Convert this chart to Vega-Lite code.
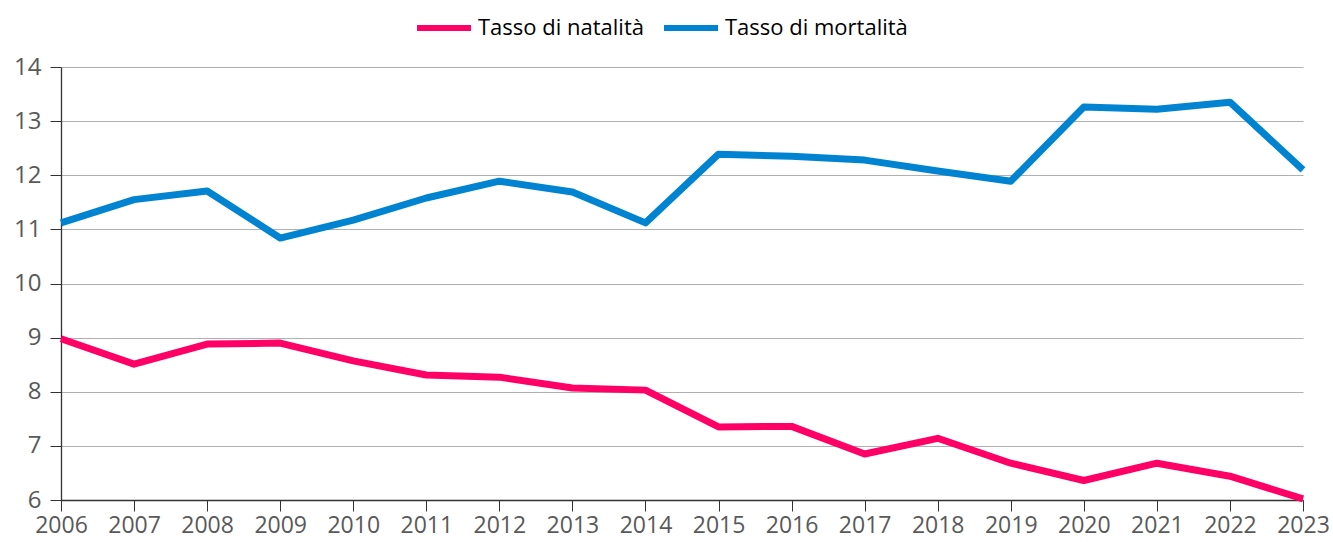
{
  "$schema": "https://vega.github.io/schema/vega-lite/v6.json",
  "width": 1242,
  "height": 433,
  "autosize": {"type": "none"},
  "padding": {"left": 61, "top": 67, "right": 30, "bottom": 42},
  "background": "white",
  "config": {
    "view": {"stroke": null},
    "font": "Open Sans"
  },
  "data": {
    "values": [
      {"anno": 2006, "serie": "Tasso di natalità", "valore": 8.98},
      {"anno": 2007, "serie": "Tasso di natalità", "valore": 8.51},
      {"anno": 2008, "serie": "Tasso di natalità", "valore": 8.88},
      {"anno": 2009, "serie": "Tasso di natalità", "valore": 8.9},
      {"anno": 2010, "serie": "Tasso di natalità", "valore": 8.57},
      {"anno": 2011, "serie": "Tasso di natalità", "valore": 8.31},
      {"anno": 2012, "serie": "Tasso di natalità", "valore": 8.27},
      {"anno": 2013, "serie": "Tasso di natalità", "valore": 8.07},
      {"anno": 2014, "serie": "Tasso di natalità", "valore": 8.03},
      {"anno": 2015, "serie": "Tasso di natalità", "valore": 7.35},
      {"anno": 2016, "serie": "Tasso di natalità", "valore": 7.36},
      {"anno": 2017, "serie": "Tasso di natalità", "valore": 6.85},
      {"anno": 2018, "serie": "Tasso di natalità", "valore": 7.14},
      {"anno": 2019, "serie": "Tasso di natalità", "valore": 6.68},
      {"anno": 2020, "serie": "Tasso di natalità", "valore": 6.36},
      {"anno": 2021, "serie": "Tasso di natalità", "valore": 6.68},
      {"anno": 2022, "serie": "Tasso di natalità", "valore": 6.44},
      {"anno": 2023, "serie": "Tasso di natalità", "valore": 6.02},
      {"anno": 2006, "serie": "Tasso di mortalità", "valore": 11.12},
      {"anno": 2007, "serie": "Tasso di mortalità", "valore": 11.55},
      {"anno": 2008, "serie": "Tasso di mortalità", "valore": 11.71},
      {"anno": 2009, "serie": "Tasso di mortalità", "valore": 10.84},
      {"anno": 2010, "serie": "Tasso di mortalità", "valore": 11.17},
      {"anno": 2011, "serie": "Tasso di mortalità", "valore": 11.58},
      {"anno": 2012, "serie": "Tasso di mortalità", "valore": 11.89},
      {"anno": 2013, "serie": "Tasso di mortalità", "valore": 11.69},
      {"anno": 2014, "serie": "Tasso di mortalità", "valore": 11.12},
      {"anno": 2015, "serie": "Tasso di mortalità", "valore": 12.39},
      {"anno": 2016, "serie": "Tasso di mortalità", "valore": 12.35},
      {"anno": 2017, "serie": "Tasso di mortalità", "valore": 12.28},
      {"anno": 2018, "serie": "Tasso di mortalità", "valore": 12.08},
      {"anno": 2019, "serie": "Tasso di mortalità", "valore": 11.89},
      {"anno": 2020, "serie": "Tasso di mortalità", "valore": 13.26},
      {"anno": 2021, "serie": "Tasso di mortalità", "valore": 13.22},
      {"anno": 2022, "serie": "Tasso di mortalità", "valore": 13.35},
      {"anno": 2023, "serie": "Tasso di mortalità", "valore": 12.1}
    ]
  },
  "mark": {"type": "line", "strokeWidth": 7, "strokeJoin": "round", "strokeCap": "butt"},
  "encoding": {
    "x": {
      "field": "anno",
      "type": "quantitative",
      "scale": {"domain": [2006, 2023], "nice": false, "zero": false},
      "axis": {
        "title": null,
        "values": [2006, 2007, 2008, 2009, 2010, 2011, 2012, 2013, 2014, 2015, 2016, 2017, 2018, 2019, 2020, 2021, 2022, 2023],
        "format": "d",
        "grid": false,
        "domainColor": "#333333",
        "domainWidth": 1.3,
        "tickColor": "#333333",
        "tickSize": 11,
        "labelFontSize": 23,
        "labelColor": "#595959",
        "labelPadding": 3,
        "labelFlush": false,
        "labelOverlap": false
      }
    },
    "y": {
      "field": "valore",
      "type": "quantitative",
      "scale": {"domain": [6, 14], "nice": false, "zero": false},
      "axis": {
        "title": null,
        "values": [6, 7, 8, 9, 10, 11, 12, 13, 14],
        "grid": true,
        "gridColor": "#b0b0b0",
        "gridWidth": 1.2,
        "domainColor": "#333333",
        "domainWidth": 1.3,
        "tickColor": "#333333",
        "tickSize": 11,
        "labelFontSize": 24,
        "labelColor": "#595959",
        "labelPadding": 9
      }
    },
    "color": {
      "field": "serie",
      "type": "nominal",
      "scale": {
        "domain": ["Tasso di natalità", "Tasso di mortalità"],
        "range": ["#FF0066", "#0084D1"]
      },
      "legend": {
        "title": null,
        "orient": "none",
        "direction": "horizontal",
        "legendX": 353,
        "legendY": -69,
        "symbolType": "stroke",
        "symbolSize": 2916,
        "symbolStrokeWidth": 6,
        "labelFontSize": 22,
        "labelLimit": 0,
        "labelColor": "#000000",
        "labelOffset": 4,
        "columnPadding": 8
      }
    }
  }
}
